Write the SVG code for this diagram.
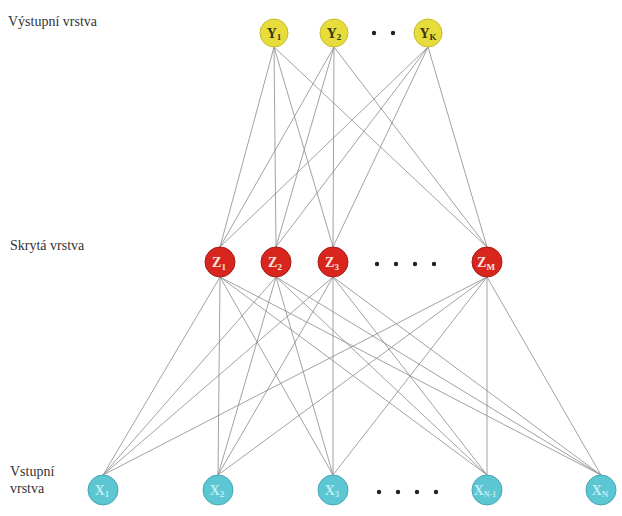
<svg xmlns="http://www.w3.org/2000/svg" width="622" height="516" viewBox="0 0 622 516">
<style>
text{font-family:"Liberation Serif","DejaVu Serif",serif}
.lbl{font-size:14px;fill:#333}
.c line{stroke:#8a8a8a;stroke-width:0.8}
.y circle{fill:#e6dc3c;stroke:#c8bc30;stroke-width:1}
.z circle{fill:#d8261e;stroke:#a81a14;stroke-width:1}
.x circle{fill:#5cc6d2;stroke:#46a8b4;stroke-width:1}
.nt{font-weight:bold;font-size:14px;text-anchor:middle}
.y .nt{fill:#3a3410}
.z .nt{fill:#fbe8e0}
.x .nt{fill:#bfeef2}
.dot{fill:#222}
</style>
<rect width="622" height="516" fill="#ffffff"/>
<text class="lbl" x="8" y="26" font-family="Liberation Serif, DejaVu Serif, serif">Výstupní vrstva</text>
<text class="lbl" x="10" y="250" font-family="Liberation Serif, DejaVu Serif, serif">Skrytá vrstva</text>
<text class="lbl" x="10" y="476" font-family="Liberation Serif, DejaVu Serif, serif">Vstupní</text>
<text class="lbl" x="10" y="493" font-family="Liberation Serif, DejaVu Serif, serif">vrstva</text>
<g id="connectors" class="c">
<line x1="274" y1="47" x2="220" y2="247"/>
<line x1="274" y1="47" x2="276" y2="247"/>
<line x1="274" y1="47" x2="333" y2="247"/>
<line x1="274" y1="47" x2="487" y2="247"/>
<line x1="334" y1="47" x2="220" y2="247"/>
<line x1="334" y1="47" x2="276" y2="247"/>
<line x1="334" y1="47" x2="333" y2="247"/>
<line x1="334" y1="47" x2="487" y2="247"/>
<line x1="428" y1="47" x2="220" y2="247"/>
<line x1="428" y1="47" x2="276" y2="247"/>
<line x1="428" y1="47" x2="333" y2="247"/>
<line x1="428" y1="47" x2="487" y2="247"/>
<line x1="220" y1="277" x2="103" y2="475"/>
<line x1="220" y1="277" x2="218" y2="475"/>
<line x1="220" y1="277" x2="333" y2="475"/>
<line x1="220" y1="277" x2="487" y2="475"/>
<line x1="220" y1="277" x2="601" y2="475"/>
<line x1="276" y1="277" x2="103" y2="475"/>
<line x1="276" y1="277" x2="218" y2="475"/>
<line x1="276" y1="277" x2="333" y2="475"/>
<line x1="276" y1="277" x2="487" y2="475"/>
<line x1="276" y1="277" x2="601" y2="475"/>
<line x1="333" y1="277" x2="103" y2="475"/>
<line x1="333" y1="277" x2="218" y2="475"/>
<line x1="333" y1="277" x2="333" y2="475"/>
<line x1="333" y1="277" x2="487" y2="475"/>
<line x1="333" y1="277" x2="601" y2="475"/>
<line x1="487" y1="277" x2="103" y2="475"/>
<line x1="487" y1="277" x2="218" y2="475"/>
<line x1="487" y1="277" x2="333" y2="475"/>
<line x1="487" y1="277" x2="487" y2="475"/>
<line x1="487" y1="277" x2="601" y2="475"/>
</g>
<g id="Y1" class="y"><circle cx="274" cy="33" r="14"/><text class="nt" x="274" y="38">Y<tspan font-size="9" dy="2">1</tspan></text></g>
<g id="Y2" class="y"><circle cx="334" cy="33" r="14"/><text class="nt" x="334" y="38">Y<tspan font-size="9" dy="2">2</tspan></text></g>
<g id="YK" class="y"><circle cx="428" cy="33" r="14"/><text class="nt" x="428" y="38">Y<tspan font-size="9" dy="2">K</tspan></text></g>
<g id="ydots"><circle class="dot" cx="374" cy="33" r="2.2"/><circle class="dot" cx="393" cy="33" r="2.2"/></g>
<g id="Z1" class="z"><circle cx="220" cy="262" r="15"/><text class="nt" x="219" y="267">Z<tspan font-size="9" dy="3">1</tspan></text></g>
<g id="Z2" class="z"><circle cx="276" cy="262" r="15"/><text class="nt" x="275" y="267">Z<tspan font-size="9" dy="3">2</tspan></text></g>
<g id="Z3" class="z"><circle cx="333" cy="262" r="15"/><text class="nt" x="332" y="267">Z<tspan font-size="9" dy="3">3</tspan></text></g>
<g id="ZM" class="z"><circle cx="487" cy="262" r="15"/><text class="nt" x="486" y="267">Z<tspan font-size="9" dy="3">M</tspan></text></g>
<g id="zdots"><circle class="dot" cx="377" cy="264" r="2.2"/><circle class="dot" cx="396" cy="264" r="2.2"/><circle class="dot" cx="415" cy="264" r="2.2"/><circle class="dot" cx="434" cy="264" r="2.2"/></g>
<g id="X1" class="x"><circle cx="103" cy="490" r="15"/><text class="nt" x="102" y="495">X<tspan font-size="9" dy="2">1</tspan></text></g>
<g id="X2" class="x"><circle cx="218" cy="490" r="15"/><text class="nt" x="217" y="495">X<tspan font-size="9" dy="2">2</tspan></text></g>
<g id="X3" class="x"><circle cx="333" cy="490" r="15"/><text class="nt" x="332" y="495">X<tspan font-size="9" dy="2">3</tspan></text></g>
<g id="XN1" class="x"><circle cx="487" cy="490" r="15"/><text class="nt" x="485" y="495">X<tspan font-size="8" dy="2">N-1</tspan></text></g>
<g id="XN" class="x"><circle cx="601" cy="490" r="15"/><text class="nt" x="600" y="495">X<tspan font-size="9" dy="2">N</tspan></text></g>
<g id="xdots"><circle class="dot" cx="379" cy="492" r="2.2"/><circle class="dot" cx="398" cy="492" r="2.2"/><circle class="dot" cx="417" cy="492" r="2.2"/><circle class="dot" cx="436" cy="492" r="2.2"/></g>
</svg>
